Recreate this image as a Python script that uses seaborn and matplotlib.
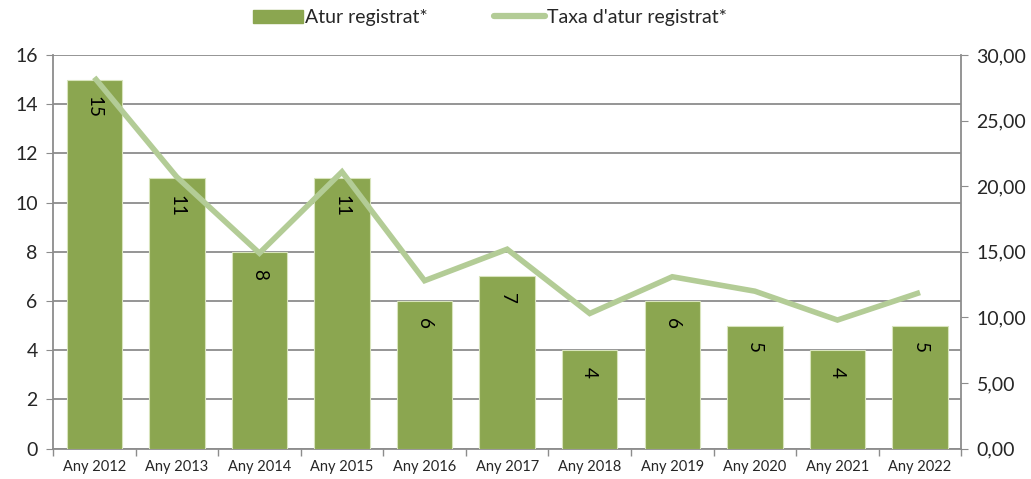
import numpy as np
import pandas as pd
import seaborn as sns
import matplotlib.pyplot as plt
from matplotlib.patches import Patch
from matplotlib.lines import Line2D
from matplotlib.ticker import FuncFormatter

years = ['Any 2012', 'Any 2013', 'Any 2014', 'Any 2015', 'Any 2016', 'Any 2017',
         'Any 2018', 'Any 2019', 'Any 2020', 'Any 2021', 'Any 2022']
atur = [15, 11, 8, 11, 6, 7, 4, 6, 5, 4, 5]
taxa = [28.3, 20.7, 14.9, 21.1, 12.8, 15.2, 10.3, 13.1, 12.0, 9.8, 11.9]

bar_color = '#8BA650'
line_color = '#B3CC96'
grid_color = '#8C8C8C'

sns.set_style('white')
plt.rcParams['font.family'] = ['Lato', 'DejaVu Sans']

df = pd.DataFrame({'any': years, 'atur': atur, 'taxa': taxa, 'pos': np.arange(len(years))})

fig = plt.figure(figsize=(10.31, 4.79), dpi=100)
ax = fig.add_axes([0.0514, 0.0635, 0.881, 0.8215])

sns.barplot(data=df, x='any', y='atur', color=bar_color, saturation=1, width=0.67,
            edgecolor='#D8E4BC', linewidth=0.8, ax=ax, zorder=3)
ax.set(xlim=(-0.5, 10.5), ylim=(0, 16), xlabel='', ylabel='')
ax.set_yticks(range(0, 17, 2))
ax.yaxis.grid(True, color=grid_color, lw=1.3, zorder=0)
ax.set_axisbelow(True)

ax2 = ax.twinx()
sns.lineplot(data=df, x='pos', y='taxa', color=line_color, lw=4.0, ax=ax2,
             solid_joinstyle='miter', solid_capstyle='butt')
ax2.set(ylim=(0, 30), xlim=(-0.5, 10.5), xlabel='', ylabel='')
ax2.set_yticks(range(0, 31, 5))
ax2.yaxis.set_major_formatter(FuncFormatter(lambda v, p: f'{v:.2f}'.replace('.', ',')))

# data labels on top of the line, read top to bottom inside each bar
for i, v in enumerate(atur):
    ax2.annotate(str(v), (i, v), xycoords=ax.transData, xytext=(0, -12),
                 textcoords='offset points', rotation=270, ha='center', va='top',
                 fontsize=13.5, color='black', zorder=5)

for a in (ax, ax2):
    for s in a.spines.values():
        s.set_visible(False)
ax.spines['left'].set_visible(True)
ax.spines['left'].set_color(grid_color)
ax.spines['left'].set_linewidth(1.3)
ax.spines['bottom'].set_visible(True)
ax.spines['bottom'].set_color(grid_color)
ax.spines['bottom'].set_linewidth(1.3)
ax2.spines['right'].set_visible(True)
ax2.spines['right'].set_color(grid_color)
ax2.spines['right'].set_linewidth(1.3)

ax.tick_params(axis='y', left=True, length=5, color=grid_color, labelsize=14, pad=6)
ax2.tick_params(axis='y', right=True, length=5, color=grid_color, labelsize=14, pad=6)
ax.tick_params(axis='x', which='major', bottom=False, length=0, labelsize=10.5, pad=8)
ax.set_xticks(np.arange(-0.5, 11, 1), minor=True)
ax.tick_params(axis='x', which='minor', bottom=True, length=5, color=grid_color, width=1)

handles = [Patch(facecolor=bar_color, edgecolor=bar_color),
           Line2D([0], [0], color=line_color, lw=4.5)]
fig.legend(handles, ['Atur registrat*', "Taxa d'atur registrat*"], loc='center',
           bbox_to_anchor=(0.475, 0.963), ncol=2, frameon=False, fontsize=14,
           handlelength=2.6, handletextpad=0.1, columnspacing=3.4)

fig.savefig('out.png', dpi=100)
